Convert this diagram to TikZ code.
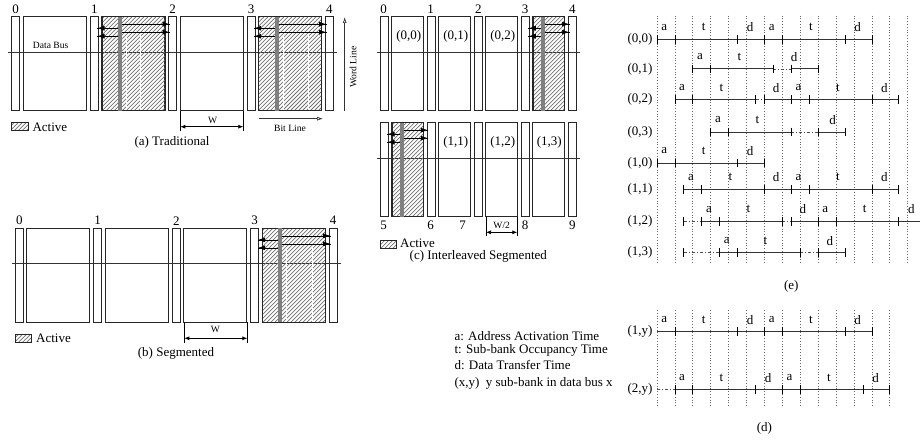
\documentclass[tikz,border=0pt]{standalone}
\usepackage{fontspec}
\setmainfont{Liberation Serif}
\usetikzlibrary{arrows.meta,patterns.meta}

\tikzset{
	lbl/.style={font=\fontsize{13}{15}\selectfont, inner sep=0pt},
	small/.style={font=\fontsize{9.6}{11}\selectfont, inner sep=0pt},
	bank/.style={draw=black!85, line width=0.9pt},
	hatched/.style={pattern={Lines[angle=45,distance=2.83pt,line width=0.75pt]}, pattern color=black!55},
	bus/.style={draw=black!80, line width=1pt},
	seg/.style={draw=black!80, line width=1pt},
	gap/.style={draw=black!70, line width=0.6pt, dash pattern=on 3pt off 2pt on 1pt off 2pt},
	tick/.style={draw=black, line width=0.8pt},
	slot/.style={draw=black!60, line width=0.8pt, dotted},
	dimarrow/.style={draw=black, line width=0.7pt, {Latex[length=5pt,width=4pt]}-{Latex[length=5pt,width=4pt]}},
	openarrow/.style={draw=black!80, line width=0.7pt, -{Latex[open,length=6pt,width=4pt]}},
	drive/.style={draw=black, line width=0.6pt},
	drivehead/.style={draw=black, line width=0.6pt, -{Latex[length=7pt,width=5pt]}}
}

% five narrow and four wide blocks: x, y, wide width, period, data bus ends
\newcommand{\banks}[6]{
	\foreach \i in {0,...,4}
		\draw[bank] ({#1+\i*#4},#2) rectangle ++(8,94);
	\foreach \i in {0,...,3}
		\draw[bank] ({#1+11.6+\i*#4},#2) rectangle ++(#3,94);
	\draw[bus] (#5,#2+35.6) -- (#6,#2+35.6);
}

% active block: x, y, width, bar offset
\newcommand{\activebank}[4]{
	\fill[hatched] (#1,#2) rectangle ++(#3,94);
	\draw[bank] (#1,#2) rectangle ++(#3,94);
	\fill[black!50] ({#1+#4},#2) rectangle ++(4,94);
	\foreach \d in {7.5,15.5} {
		\draw[drive] ({#1+#4+4},#2+\d) -- ({#1+#3+5},#2+\d);
		\draw[drivehead] ({#1+#3-4},#2+\d) -- ({#1+#3+4.5},#2+\d);
	}
	\foreach \d in {11.5,19.5} {
		\draw[drive] ({#1+#4},#2+\d) -- ({#1-5},#2+\d);
		\draw[drivehead] ({#1+4},#2+\d) -- ({#1-4.5},#2+\d);
	}
}

% name, y, label, solid parts, broken parts, ticks, letters
\newcommand{\timerow}[7]{
	\node[lbl, anchor=east] (#1) at (-0.24,#2) {#3};
	\foreach \a/\b in {#4}
		\draw[seg] (\a,#2) -- (\b,#2);
	\foreach \a/\b in {#5}
		\draw[gap] (\a,#2) -- (\b,#2);
	\foreach \t in {#6}
		\draw[tick] (\t,#2-4.3) -- (\t,#2+4.3);
	\foreach \x/\c [count=\i] in {#7}
		\node[lbl] (#1let\i) at (\x,#2-12) {\c};
}

\begin{document}
\begin{tikzpicture}[x=1pt,y=-1pt]
	\useasboundingbox (0,0) rectangle (920,441);

	% (a) traditional
	\banks{11.7}{16.7}{63}{78.5}{8}{337}
	\activebank{102}{16.7}{63}{16.3}
	\activebank{258.7}{16.7}{63}{16.3}
	\foreach \x in {126.7,140,283.4,308.7}
		\draw[white, line width=0.5pt] (\x,35) -- (\x,110);
	\foreach \i/\x in {0/15.7,1/94.3,2/172.7,3/251,4/329.3}
		\node[lbl] (a\i) at (\x,9.3) {\i};
	\node[small] (databus) at (50.7,45) {Data Bus};
	\draw[black, line width=0.7pt] (180.3,110.7) -- (180.3,131) (243.3,110.7) -- (243.3,131);
	\draw[dimarrow] (180.3,126.7) -- (243.3,126.7);
	\node[small] (wa) at (212.7,120) {W};
	\draw[openarrow] (258.7,118.7) -- (323,118.7);
	\node[small] (bitline) at (290,128) {Bit Line};
	\draw[openarrow] (344.7,110.7) -- (344.7,17);
	\node[small, rotate=90] (wordline) at (353,67) {Word Line};
	\fill[hatched] (11.7,122.7) rectangle (28.3,130.7);
	\draw[bank] (11.7,122.7) rectangle (28.3,130.7);
	\node[lbl, anchor=west] (activea) at (32.3,127) {Active};
	\node[lbl] (capa) at (172,142) {(a) Traditional};

	% (b) segmented
	\banks{15.3}{228.3}{63}{78.5}{12.3}{341}
	\activebank{262.7}{228.3}{63}{15}
	\foreach \x in {286.7,312.3}
		\draw[white, line width=0.5pt] (\x,247) -- (\x,322);
	\foreach \i/\x in {0/19.3,1/97.7,2/176.3,3/254.7,4/333}
		\node[lbl] (b\i) at (\x,220.7) {\i};
	\draw[black, line width=0.7pt] (184.3,322.3) -- (184.3,342.6) (247.3,322.3) -- (247.3,342.6);
	\draw[dimarrow] (184.3,338.3) -- (247.3,338.3);
	\node[small] (wb) at (215.3,329.5) {W};
	\fill[hatched] (15.3,334.3) rectangle (31.7,342.3);
	\draw[bank] (15.3,334.3) rectangle (31.7,342.3);
	\node[lbl, anchor=west] (activeb) at (36,338.5) {Active};
	\node[lbl] (capb) at (176,353) {(b) Segmented};

	% (c) interleaved segmented
	\banks{380.3}{16.7}{31.3}{47}{376.7}{580}
	\banks{380.3}{122.7}{31.3}{47}{376.7}{580}
	\activebank{533.3}{16.7}{31.3}{7.7}
	\activebank{392}{122.7}{31.3}{8}
	\foreach \i/\x in {0/383.7,1/430.7,2/478.3,3/525,4/572.3}
		\node[lbl] (c\i) at (\x,9.3) {\i};
	\foreach \i/\x in {5/383.7,6/430.7,7/462.7,8/525,9/572.3}
		\node[lbl] (c\i) at (\x,225) {\i};
	\foreach \n/\t/\x in {c00/(0{,}0)/408.7,c01/(0{,}1)/455.7,c02/(0{,}2)/502.7}
		\node[lbl] (\n) at (\x,36.7) {\t};
	\foreach \n/\t/\x in {c11/(1{,}1)/455.7,c12/(1{,}2)/502.7,c13/(1{,}3)/549.3}
		\node[lbl] (\n) at (\x,142.3) {\t};
	\draw[black, line width=0.7pt] (486,216.7) -- (486,235.7) (517.3,216.7) -- (517.3,235.7);
	\draw[dimarrow] (486,232.3) -- (517.3,232.3);
	\node[small] (wc) at (501.7,225) {W/2};
	\fill[hatched] (380.3,240) rectangle (396.7,248.3);
	\draw[bank] (380.3,240) rectangle (396.7,248.3);
	\node[lbl, anchor=west] (activec) at (400,243.5) {Active};
	\node[lbl] (capc) at (478.3,256.5) {(c) Interleaved Segmented};

	% legend
	\node[lbl, anchor=west] (lega) at (454.3,336) {a: Address Activation Time};
	\node[lbl, anchor=west] (legt) at (454.3,350) {t: Sub-bank Occupancy Time};
	\node[lbl, anchor=west] (legd) at (454.3,364.7) {d: Data Transfer Time};
	\node[lbl, anchor=west] (legx) at (454.3,383) {(x,y)\ \ y sub-bank in data bus x};

	% time lines, x counted in slots
	\begin{scope}[shift={(657,0)},x=17.91pt]
		\foreach \x in {0,...,14}
			\draw[slot] (\x,15.7) -- (\x,264.3);
		\foreach \x in {0,...,13}
			\draw[slot] (\x,310) -- (\x,407.3);

		% (e)
		\timerow{e00}{39.3}{(0,0)}{0/12}{}{0,1,4.5,6,7,10.5,12}{0.4/a,2.6/t,5.2/d,6.4/a,8.6/t,11.2/d}
		\timerow{e01}{69}{(0,1)}{2/6.5,7.5/9}{6.5/7.5}{2,3,6.5,7.5,9}{2.4/a,4.6/t,7.65/d}
		\timerow{e02}{99.7}{(0,2)}{1/5.5,6/13.5}{5.5/6}{1,2,5.5,6,7.5,8.5,12,13.5}{1.4/a,3.6/t,6.65/d,7.9/a,10.1/t,12.7/d}
		\timerow{e03}{132}{(0,3)}{3/7.5,9/10.5}{7.5/9}{3,4,7.5,9,10.5}{3.4/a,5.6/t,9.8/d}
		\timerow{e10}{163}{(1,0)}{0/6}{}{0,1,4.5,6}{0.4/a,2.6/t,5.2/d}
		\timerow{e11}{189.3}{(1,1)}{1.5/13.5}{}{1.5,2.5,6,7.5,8.5,12,13.5}{1.9/a,4.1/t,6.65/d,7.9/a,10.1/t,12.7/d}
		\timerow{e12}{221.3}{(1,2)}{2.5/7,7.5/14.68}{1.5/2.5,7/7.5}{1.5,2.5,3.5,7,7.5,9,10,13.5}{2.9/a,5.1/t,8.15/d,9.4/a,11.6/t,14.2/d}
		\timerow{e13}{252.7}{(1,3)}{3.5/8,9/10.5}{1.5/3.5,8/9}{1.5,3.5,4.5,8,9,10.5}{3.9/a,6.05/t,9.65/d}
		\node[lbl] (cape) at (7.5,286.7) {(e)};

		% (d)
		\timerow{d1}{331.7}{(1,y)}{0/12}{}{1,4.5,6,7,10.5,12}{0.4/a,2.6/t,5.2/d,6.4/a,8.6/t,11.2/d}
		\timerow{d2}{389.7}{(2,y)}{1/13}{0/1}{1,2,5.5,7,8,11.5,13}{1.4/a,3.6/t,6.2/d,7.4/a,9.6/t,12.2/d}
		\node[lbl] (capd) at (6,428) {(d)};
	\end{scope}
\end{tikzpicture}
\end{document}
